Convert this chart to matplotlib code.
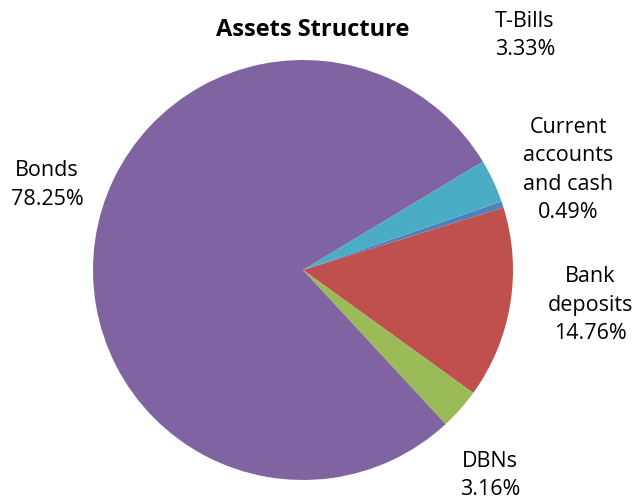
import matplotlib.pyplot as plt

# data
categories = ["Current\naccounts\nand cash", "Bank\ndeposits", "DBNs", "Bonds", "T-Bills"]
shares = [0.49, 14.76, 3.16, 78.25, 3.33]
colors = ["#4F81BD", "#C0504D", "#9BBB59", "#8064A2", "#4BACC6"]

# label positions (axes data coords, pie radius = 1)
label_pos = [(1.262, 0.476), (1.367, -0.167), (0.89, -0.98), (-1.219, 0.405), (1.057, 1.115)]

plt.rcParams['font.family'] = ['Open Sans', 'DejaVu Sans']

fig = plt.figure(figsize=(6.39, 5.0), dpi=100)
cx, cy, r = 303, 270, 210
ax = fig.add_axes([(cx - r) / 639, (500 - cy - r) / 500, 2 * r / 639, 2 * r / 500])

ax.pie(shares, colors=colors, startangle=19.06, counterclock=False,
       radius=1, wedgeprops={'linewidth': 0})
ax.set_xlim(-1, 1)
ax.set_ylim(-1, 1)
ax.set_aspect('equal')
ax.axis('off')

for name, val, (x, y) in zip(categories, shares, label_pos):
    ax.text(x, y, f"{name}\n{val:.2f}%", ha='center', va='center',
            fontsize=15.5, linespacing=1.45, clip_on=False)

fig.text(313 / 639, 1 - 30 / 500, "Assets Structure", ha='center', va='center',
         fontsize=17, fontweight='bold')

fig.savefig("out.png", dpi=100)
